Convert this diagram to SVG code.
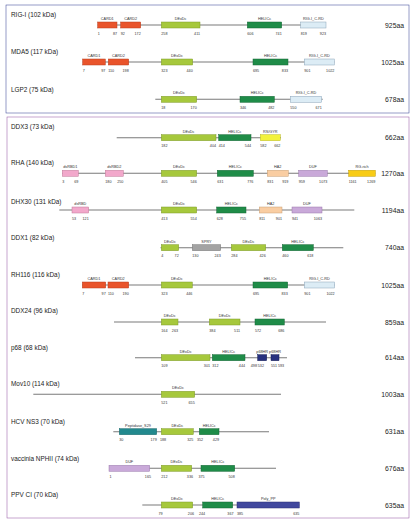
<svg xmlns="http://www.w3.org/2000/svg" width="414" height="525" viewBox="0 0 414 525">
<style>
text{font-family:"Liberation Sans",Arial,sans-serif;fill:#222}
.nm{font-size:6.4px}
.aa{font-size:6.8px;text-anchor:end}
.dl{font-size:3.8px;text-anchor:middle;fill:#333}
.ns{font-size:3.7px;fill:#333}
.ne{font-size:3.7px;fill:#333;text-anchor:end}
.bb{stroke:#7a7a7a;stroke-width:1.1}
rect{stroke-width:0.5}
.card{fill:#e9542b;stroke:#b83c1c}
.dex{fill:#a6c83c;stroke:#7e9a28}
.hel{fill:#1f8c48;stroke:#146634}
.crd{fill:#dcecf5;stroke:#8aa4b8}
.rbd{fill:#f2a8cb;stroke:#c07898}
.ha2{fill:#f9cda2;stroke:#c89e74}
.duf{fill:#c9a9d9;stroke:#9a7aac}
.rg{fill:#f8cc16;stroke:#c09c00}
.rs{fill:#f2f23c;stroke:#b8b820}
.spry{fill:#a3a3a3;stroke:#777}
.hr{fill:#27317f;stroke:#151c55}
.pep{fill:#22898e;stroke:#16666a}
.pp{fill:#41489e;stroke:#2a2f72}
</style>
<rect x="6" y="5" width="403" height="108" fill="none" stroke="#2c3a8e" stroke-width="1.4"/>
<rect x="7" y="117" width="402" height="401" fill="none" stroke="#8e4c9e" stroke-width="1.4"/>

<g id="connectors"></g>

<g id="rig-i">
<text class="nm" x="11" y="17.3">RIG-I (102 kDa)</text>
<line class="bb" x1="97.7" y1="25" x2="326" y2="25"/>
<rect class="card" x="97.7" y="22" width="19.3" height="6"/><text class="dl" x="107.3" y="20">CARD1</text><text class="ns" x="97.7" y="34.5">1</text><text class="ne" x="117" y="34.5">87</text>
<rect class="card" x="120.7" y="22" width="20" height="6"/><text class="dl" x="130.7" y="20">CARD2</text><text class="ns" x="120.7" y="34.5">92</text><text class="ne" x="140.7" y="34.5">172</text>
<rect class="dex" x="161.3" y="22" width="38.7" height="6"/><text class="dl" x="180.6" y="20">DExDc</text><text class="ns" x="161.3" y="34.5">258</text><text class="ne" x="200" y="34.5">411</text>
<rect class="hel" x="247.3" y="22" width="34.4" height="6"/><text class="dl" x="264.5" y="20">HELICc</text><text class="ns" x="247.3" y="34.5">606</text><text class="ne" x="281.7" y="34.5">741</text>
<rect class="crd" x="300.7" y="22" width="25.3" height="6"/><text class="dl" x="313.3" y="20">RIG-I_C-RD</text><text class="ns" x="300.7" y="34.5">819</text><text class="ne" x="326" y="34.5">923</text>
<text class="aa" x="404" y="27.5">925aa</text>
</g>

<g id="mda5">
<text class="nm" x="11" y="54">MDA5 (117 kDa)</text>
<line class="bb" x1="82.7" y1="62" x2="334.3" y2="62"/>
<rect class="card" x="82.7" y="59" width="22.6" height="6"/><text class="dl" x="94" y="57">CARD1</text><text class="ns" x="82.7" y="71.5">7</text><text class="ne" x="105.3" y="71.5">97</text>
<rect class="card" x="108.3" y="59" width="20.4" height="6"/><text class="dl" x="118.5" y="57">CARD2</text><text class="ns" x="108.3" y="71.5">110</text><text class="ne" x="128.7" y="71.5">198</text>
<rect class="dex" x="161.3" y="59" width="31.4" height="6"/><text class="dl" x="177" y="57">DExDc</text><text class="ns" x="161.3" y="71.5">323</text><text class="ne" x="192.7" y="71.5">440</text>
<rect class="hel" x="253" y="59" width="35" height="6"/><text class="dl" x="270.5" y="57">HELICc</text><text class="ns" x="253" y="71.5">695</text><text class="ne" x="288" y="71.5">833</text>
<rect class="crd" x="304.3" y="59" width="30" height="6"/><text class="dl" x="319.3" y="57">RIG-I_C-RD</text><text class="ns" x="304.3" y="71.5">901</text><text class="ne" x="334.3" y="71.5">1022</text>
<text class="aa" x="404" y="64.5">1025aa</text>
</g>

<g id="lgp2">
<text class="nm" x="11" y="91.5">LGP2 (75 kDa)</text>
<line class="bb" x1="155.3" y1="99.3" x2="322.7" y2="99.3"/>
<rect class="dex" x="161.3" y="96.3" width="35.4" height="6"/><text class="dl" x="179" y="94.3">DExDc</text><text class="ns" x="161.3" y="108.8">18</text><text class="ne" x="196.7" y="108.8">170</text>
<rect class="hel" x="240" y="96.3" width="34.3" height="6"/><text class="dl" x="257.2" y="94.3">HELICc</text><text class="ns" x="240" y="108.8">346</text><text class="ne" x="274.3" y="108.8">482</text>
<rect class="crd" x="290.3" y="96.3" width="31.4" height="6"/><text class="dl" x="306" y="94.3">RIG-I_C-RD</text><text class="ns" x="290.3" y="108.8">550</text><text class="ne" x="321.7" y="108.8">671</text>
<text class="aa" x="404" y="101.8">678aa</text>
</g>

<g id="ddx3">
<text class="nm" x="11" y="129">DDX3 (73 kDa)</text>
<line class="bb" x1="116.7" y1="137.7" x2="281" y2="137.7"/>
<rect class="dex" x="161.3" y="134.7" width="54.7" height="6"/><text class="dl" x="188.6" y="132.7">DExDc</text><text class="ns" x="161.3" y="147.2">182</text><text class="ne" x="216" y="147.2">404</text>
<rect class="hel" x="218.7" y="134.7" width="32.3" height="6"/><text class="dl" x="234.8" y="132.7">HELICc</text><text class="ns" x="218.7" y="147.2">414</text><text class="ne" x="251" y="147.2">544</text>
<rect class="rs" x="260.3" y="134.7" width="20" height="6"/><text class="dl" x="270.3" y="132.7">RS/GYR</text><text class="ns" x="260.3" y="147.2">582</text><text class="ne" x="280.3" y="147.2">662</text>
<text class="aa" x="404" y="140.2">662aa</text>
</g>

<g id="rha">
<text class="nm" x="11" y="165">RHA (140 kDa)</text>
<line class="bb" x1="62.3" y1="173.3" x2="375.3" y2="173.3"/>
<rect class="rbd" x="62.3" y="170.3" width="16" height="6"/><text class="dl" x="70.3" y="168.3">dsRBD1</text><text class="ns" x="62.3" y="182.8">3</text><text class="ne" x="78.3" y="182.8">69</text>
<rect class="rbd" x="105.3" y="170.3" width="18" height="6"/><text class="dl" x="114.3" y="168.3">dsRBD2</text><text class="ns" x="105.3" y="182.8">180</text><text class="ne" x="123.3" y="182.8">250</text>
<rect class="dex" x="161.3" y="170.3" width="35.4" height="6"/><text class="dl" x="179" y="168.3">DExDc</text><text class="ns" x="161.3" y="182.8">405</text><text class="ne" x="196.7" y="182.8">546</text>
<rect class="hel" x="217.3" y="170.3" width="36" height="6"/><text class="dl" x="235.3" y="168.3">HELICc</text><text class="ns" x="217.3" y="182.8">631</text><text class="ne" x="253.3" y="182.8">776</text>
<rect class="ha2" x="267.3" y="170.3" width="21" height="6"/><text class="dl" x="277.8" y="168.3">HA2</text><text class="ns" x="267.3" y="182.8">831</text><text class="ne" x="288.3" y="182.8">919</text>
<rect class="duf" x="298.7" y="170.3" width="28.6" height="6"/><text class="dl" x="313" y="168.3">DUF</text><text class="ns" x="298.7" y="182.8">959</text><text class="ne" x="327.3" y="182.8">1073</text>
<rect class="rg" x="348.7" y="170.3" width="26.6" height="6"/><text class="dl" x="362" y="168.3">RG-rich</text><text class="ns" x="348.7" y="182.8">1161</text><text class="ne" x="375.3" y="182.8">1269</text>
<text class="aa" x="404" y="175.8">1270aa</text>
</g>

<g id="dhx30">
<text class="nm" x="11" y="203.5">DHX30 (131 kDa)</text>
<line class="bb" x1="59.3" y1="210" x2="354.3" y2="210"/>
<rect class="rbd" x="72" y="207" width="16.7" height="6"/><text class="dl" x="80.3" y="205">dsRBD</text><text class="ns" x="72" y="219.5">53</text><text class="ne" x="88.7" y="219.5">121</text>
<rect class="dex" x="161.3" y="207" width="35.4" height="6"/><text class="dl" x="179" y="205">DExDc</text><text class="ns" x="161.3" y="219.5">413</text><text class="ne" x="196.7" y="219.5">554</text>
<rect class="hel" x="216.7" y="207" width="29.3" height="6"/><text class="dl" x="231.3" y="205">HELICc</text><text class="ns" x="216.7" y="219.5">628</text><text class="ne" x="246" y="219.5">755</text>
<rect class="ha2" x="259.3" y="207" width="22.7" height="6"/><text class="dl" x="270.7" y="205">HA2</text><text class="ns" x="259.3" y="219.5">811</text><text class="ne" x="282" y="219.5">901</text>
<rect class="duf" x="292" y="207" width="30" height="6"/><text class="dl" x="307" y="205">DUF</text><text class="ns" x="292" y="219.5">941</text><text class="ne" x="322" y="219.5">1063</text>
<text class="aa" x="404" y="212.5">1194aa</text>
</g>

<g id="ddx1">
<text class="nm" x="11" y="240">DDX1 (82 kDa)</text>
<line class="bb" x1="160.5" y1="247.7" x2="343.3" y2="247.7"/>
<rect class="dex" x="161.3" y="244.7" width="17.4" height="6"/><text class="dl" x="170" y="242.7">DExDc</text><text class="ns" x="161.3" y="257.2">4</text><text class="ne" x="178.7" y="257.2">72</text>
<rect class="spry" x="192.3" y="244.7" width="28.4" height="6"/><text class="dl" x="206.5" y="242.7">SPRY</text><text class="ns" x="192.3" y="257.2">130</text><text class="ne" x="220.7" y="257.2">243</text>
<rect class="dex" x="231.3" y="244.7" width="34.4" height="6"/><text class="dl" x="248.5" y="242.7">DExDc</text><text class="ns" x="231.3" y="257.2">284</text><text class="ne" x="265.7" y="257.2">426</text>
<rect class="hel" x="282.3" y="244.7" width="31" height="6"/><text class="dl" x="297.8" y="242.7">HELICc</text><text class="ns" x="282.3" y="257.2">460</text><text class="ne" x="313.3" y="257.2">618</text>
<text class="aa" x="404" y="250.2">740aa</text>
</g>

<g id="rh116">
<text class="nm" x="11" y="276.7">RH116 (116 kDa)</text>
<line class="bb" x1="82.3" y1="285" x2="334.7" y2="285"/>
<rect class="card" x="82.3" y="282" width="23.4" height="6"/><text class="dl" x="94" y="280">CARD1</text><text class="ns" x="82.3" y="294.5">7</text><text class="ne" x="105.7" y="294.5">97</text>
<rect class="card" x="108" y="282" width="20.7" height="6"/><text class="dl" x="118.3" y="280">CARD2</text><text class="ns" x="108" y="294.5">110</text><text class="ne" x="128.7" y="294.5">190</text>
<rect class="dex" x="161.3" y="282" width="31" height="6"/><text class="dl" x="176.8" y="280">DExDc</text><text class="ns" x="161.3" y="294.5">323</text><text class="ne" x="192.3" y="294.5">446</text>
<rect class="hel" x="253" y="282" width="34.7" height="6"/><text class="dl" x="270.3" y="280">HELICc</text><text class="ns" x="253" y="294.5">695</text><text class="ne" x="287.7" y="294.5">833</text>
<rect class="crd" x="304.3" y="282" width="30.4" height="6"/><text class="dl" x="319.5" y="280">RIG-I_C-RD</text><text class="ns" x="304.3" y="294.5">901</text><text class="ne" x="334.7" y="294.5">1022</text>
<text class="aa" x="404" y="287.5">1025aa</text>
</g>

<g id="ddx24">
<text class="nm" x="11" y="313">DDX24 (96 kDa)</text>
<line class="bb" x1="114" y1="322" x2="326" y2="322"/>
<rect class="dex" x="161.3" y="319" width="16.7" height="6"/><text class="dl" x="169.7" y="317">DExDc</text><text class="ns" x="161.3" y="331.5">164</text><text class="ne" x="178" y="331.5">263</text>
<rect class="dex" x="209.3" y="319" width="30.7" height="6"/><text class="dl" x="224.7" y="317">DExDc</text><text class="ns" x="209.3" y="331.5">384</text><text class="ne" x="240" y="331.5">511</text>
<rect class="hel" x="255" y="319" width="29.3" height="6"/><text class="dl" x="269.7" y="317">HELICc</text><text class="ns" x="255" y="331.5">572</text><text class="ne" x="284.3" y="331.5">686</text>
<text class="aa" x="404" y="324.5">859aa</text>
</g>

<g id="p68">
<text class="nm" x="11" y="349.7">p68 (68 kDa)</text>
<line class="bb" x1="135" y1="357.7" x2="287" y2="357.7"/>
<rect class="dex" x="161.3" y="354.7" width="48.7" height="6"/><text class="dl" x="185.7" y="352.7">DExDc</text><text class="ns" x="161.3" y="367.2">109</text><text class="ne" x="210" y="367.2">301</text>
<rect class="hel" x="212.3" y="354.7" width="32.7" height="6"/><text class="dl" x="228.7" y="352.7">HELICc</text><text class="ns" x="212.3" y="367.2">312</text><text class="ne" x="245" y="367.2">444</text>
<rect class="hr" x="257.7" y="354.7" width="9" height="6"/><text class="dl" x="262.2" y="352.7">p68HR</text><text class="ns" x="250.8" y="367.2">498</text><text class="ns" x="257.8" y="367.2">532</text>
<rect class="hr" x="271" y="354.7" width="8" height="6"/><text class="dl" x="275" y="352.7">p68HR</text><text class="ns" x="271" y="367.2">551</text><text class="ns" x="278" y="367.2">593</text>
<text class="aa" x="404" y="360.2">614aa</text>
</g>

<g id="mov10">
<text class="nm" x="11" y="385.7">Mov10 (114 kDa)</text>
<line class="bb" x1="33.3" y1="394.3" x2="281" y2="394.3"/>
<rect class="dex" x="161.3" y="391.3" width="33.4" height="6"/><text class="dl" x="178" y="389.3">DExDc</text><text class="ns" x="161.3" y="403.8">521</text><text class="ne" x="194.7" y="403.8">655</text>
<text class="aa" x="404" y="396.8">1003aa</text>
</g>

<g id="hcv-ns3">
<text class="nm" x="11" y="424">HCV NS3 (70 kDa)</text>
<line class="bb" x1="113.3" y1="431.7" x2="269" y2="431.7"/>
<rect class="pep" x="119.3" y="428.7" width="37.4" height="6"/><text class="dl" x="138" y="426.7">Peptidase_S29</text><text class="ns" x="119.3" y="441.2">30</text><text class="ne" x="156.7" y="441.2">179</text>
<rect class="dex" x="161.3" y="428.7" width="32" height="6"/><text class="dl" x="177.3" y="426.7">DExDc</text><text class="ns" x="160" y="441.2">188</text><text class="ne" x="193.3" y="441.2">325</text>
<rect class="hel" x="199.3" y="428.7" width="19.7" height="6"/><text class="dl" x="209.2" y="426.7">HELICc</text><text class="ns" x="197" y="441.2">352</text><text class="ne" x="219" y="441.2">429</text>
<text class="aa" x="404" y="434.2">631aa</text>
</g>

<g id="vaccinia-nphii">
<text class="nm" x="11" y="460.7">vaccinia NPHII (74 kDa)</text>
<line class="bb" x1="109" y1="468.3" x2="276" y2="468.3"/>
<rect class="duf" x="109" y="465.3" width="40.7" height="6"/><text class="dl" x="129.3" y="463.3">DUF</text><text class="ns" x="109.5" y="477.8">1</text><text class="ne" x="151" y="477.8">165</text>
<rect class="dex" x="161.3" y="465.3" width="30.4" height="6"/><text class="dl" x="176.5" y="463.3">DExDc</text><text class="ns" x="161.3" y="477.8">212</text><text class="ne" x="193" y="477.8">336</text>
<rect class="hel" x="201" y="465.3" width="33.7" height="6"/><text class="dl" x="217.8" y="463.3">HELICc</text><text class="ns" x="198.5" y="477.8">375</text><text class="ne" x="234.7" y="477.8">508</text>
<text class="aa" x="404" y="470.8">676aa</text>
</g>

<g id="ppv-ci">
<text class="nm" x="11" y="496.7">PPV CI (70 kDa)</text>
<line class="bb" x1="142.3" y1="505" x2="299.3" y2="505"/>
<rect class="dex" x="161.3" y="502" width="31.4" height="6"/><text class="dl" x="177" y="500">DExDc</text><text class="ns" x="158.5" y="514.5">79</text><text class="ne" x="194" y="514.5">206</text>
<rect class="hel" x="202.7" y="502" width="30" height="6"/><text class="dl" x="217.7" y="500">HELICc</text><text class="ns" x="199" y="514.5">244</text><text class="ne" x="233.5" y="514.5">367</text>
<rect class="pp" x="237" y="502" width="62.3" height="6"/><text class="dl" x="268.2" y="500">Poly_PP</text><text class="ns" x="237" y="514.5">385</text><text class="ne" x="299.3" y="514.5">635</text>
<text class="aa" x="404" y="507.5">635aa</text>
</g>
</svg>
